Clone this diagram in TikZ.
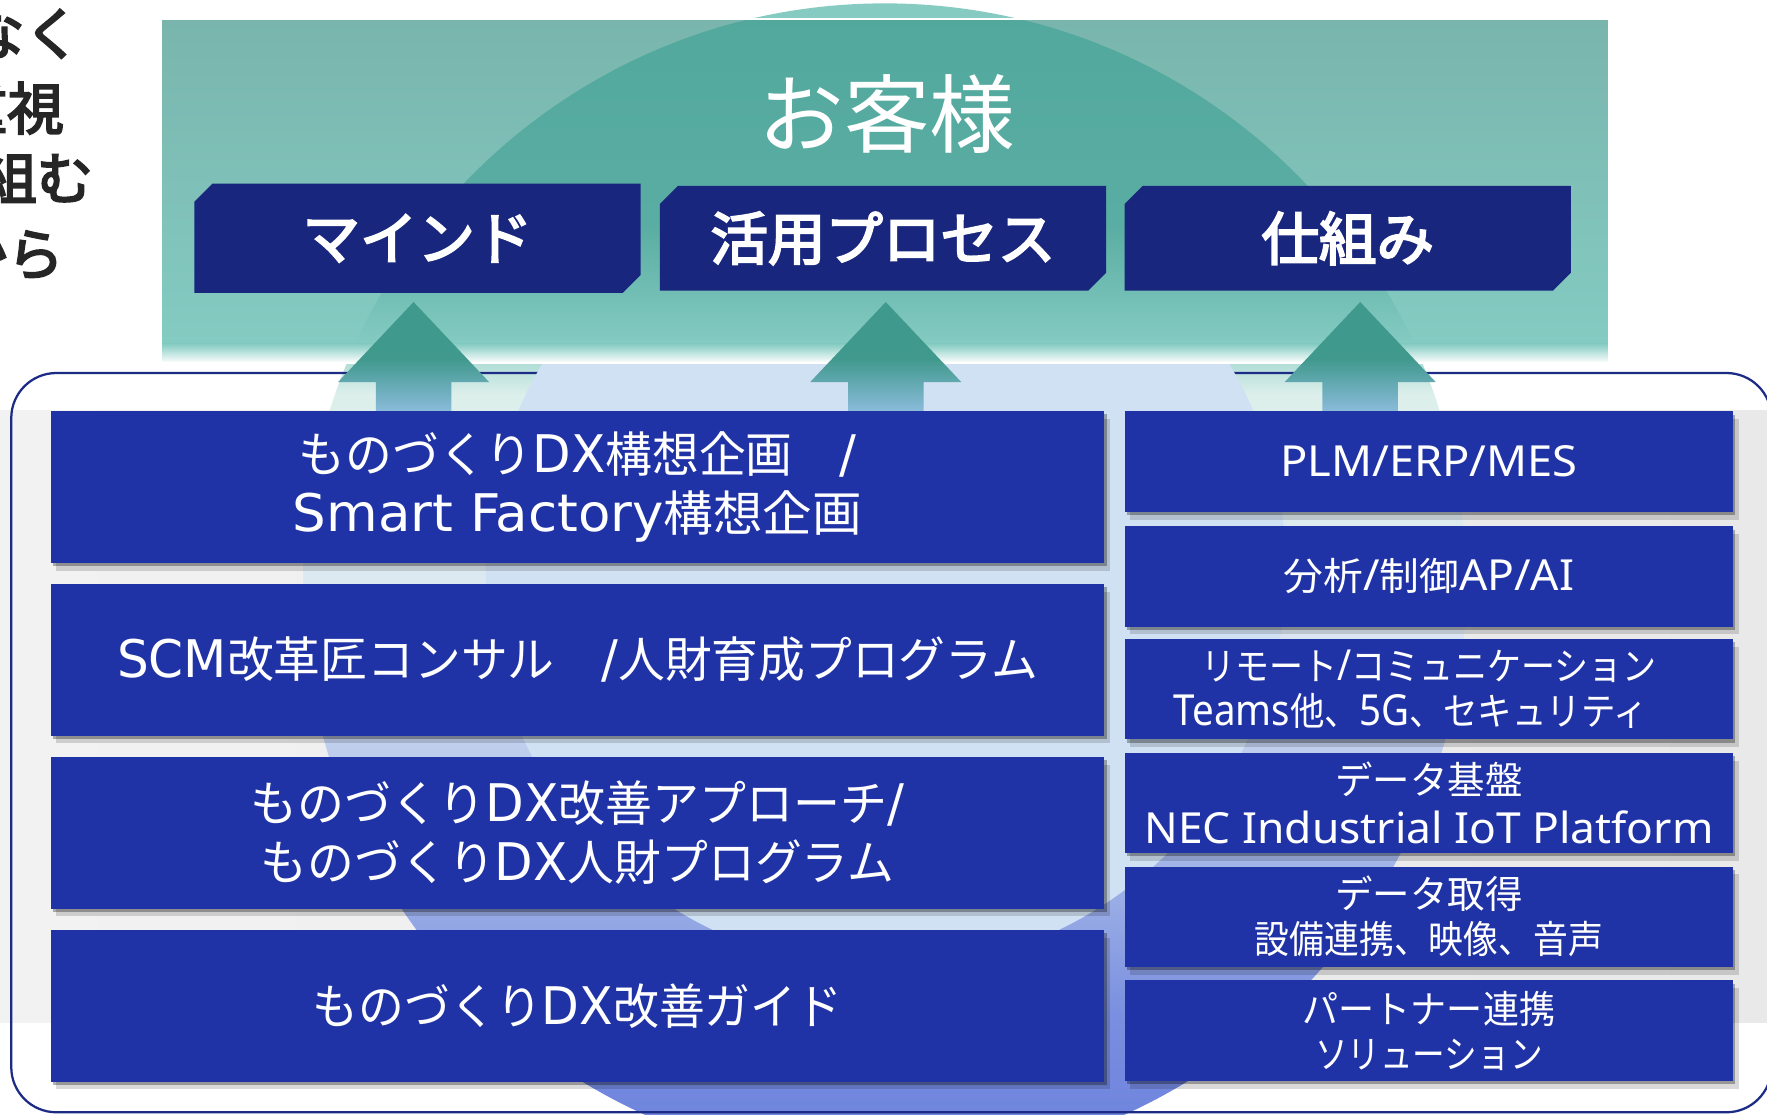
\documentclass[tikz,border=0pt]{standalone}
\usepackage{fontspec}
\usepackage{graphicx}
\usetikzlibrary{calc,shadows}
\newfontfamily\jp{Noto Sans CJK JP}
\newfontfamily\dv{DejaVu Sans}
\newfontfamily\ns{Noto Sans}
\definecolor{hdrblue}{HTML}{18267D}
\definecolor{boxblue}{HTML}{2033A6}
\definecolor{tealA}{HTML}{79B5AD}
\definecolor{tealB}{HTML}{84CBC2}
\definecolor{tealC}{HTML}{52A89D}
\definecolor{tealD}{HTML}{5AADA2}
\definecolor{capteal}{HTML}{86CBC2}
\definecolor{mint}{HTML}{DCEFEB}
\definecolor{pale}{HTML}{DDE7F3}
\definecolor{lblue}{HTML}{D0E1F3}
\definecolor{mblueA}{HTML}{9FB2E7}
\definecolor{mblueB}{HTML}{7A8FDF}
\definecolor{mblueC}{HTML}{6A7FDC}
\definecolor{arrteal}{HTML}{40998D}
\definecolor{arrblue}{HTML}{8CBCDC}
\definecolor{outlinec}{HTML}{1C2C85}
\definecolor{greyA}{HTML}{F2F2F2}
\definecolor{greyB}{HTML}{E9E9E9}
\definecolor{inkc}{HTML}{262626}
\pgfdeclarelayer{back}
\pgfsetlayers{back,main}
\newcommand{\fw}[2]{\resizebox{#1}{\height}{#2}}
\newcommand{\la}[1]{{\dv\fontsize{23pt}{26pt}\selectfont #1}}
\newcommand{\lb}[1]{{\ns\fontsize{19pt}{20pt}\selectfont #1}}
% medium weight: fill and stroke the glyphs
\newcommand{\emb}[2]{\special{pdf:literal direct #1 RG 2 Tr 0.9 w}#2\special{pdf:literal direct 0 Tr}}
\begin{document}
\begin{tikzpicture}[x=0.5pt,y=-0.5pt,
  hdr/.style={minimum width=198pt, inner sep=0pt, outer sep=0pt, text=white,
    font=\jp\fontsize{25.5pt}{30pt}\selectfont},
  shadowed/.style={drop shadow={shadow xshift=1pt,shadow yshift=-1.5pt,opacity=.3,fill=black},
    drop shadow={shadow xshift=2.5pt,shadow yshift=-3.5pt,opacity=.15,fill=black}},
  lbox/.style={fill=boxblue, minimum width=467.5pt, minimum height=67.25pt, inner sep=0pt,
    outer sep=0pt, text=white, align=center, font=\jp\fontsize{21.5pt}{26pt}\selectfont, shadowed},
  rbox/.style={fill=boxblue, minimum width=270pt, minimum height=44.5pt, inner sep=0pt,
    outer sep=0pt, text=white, align=center, font=\jp\fontsize{17pt}{20pt}\selectfont, shadowed},
  tl/.style={inner sep=0pt, text=inkc, font=\jp\fontsize{25pt}{30pt}\selectfont}
]
\useasboundingbox (0,0) rectangle (1568,989);

\begin{pgfonlayer}{back}
\fill[white] (0,0) rectangle (1568,989);
\shade[left color=greyA, right color=greyB] (0,364) rectangle (1568,907);
% outer circle
\begin{scope}
\clip (785,519) circle[radius=516];
\fill[capteal] (0,0) rectangle (1568,322);
\shade[top color=capteal!50!mint, bottom color=mint] (0,322) rectangle (1568,350);
\shade[top color=mint, bottom color=pale] (0,350) rectangle (1568,560);
\shade[top color=pale, bottom color=mblueA] (0,560) rectangle (1568,780);
\shade[top color=mblueA, bottom color=mblueB] (0,780) rectangle (1568,900);
\shade[top color=mblueB, bottom color=mblueC] (0,900) rectangle (1568,1040);
\end{scope}
% frame
\draw[outlinec, line width=1pt, rounded corners=20pt] (10,331) rectangle (1572,987);
% inner circle
\fill[lblue] (786,505) circle[radius=355];
% teal panel
\begin{scope}
\clip (143,17) rectangle (1428,322);
\shade[top color=tealA, bottom color=tealB] (143,17) rectangle (1428,305);
\begin{scope}
\clip (785,519) circle[radius=516];
\shade[top color=tealC, bottom color=tealD] (143,3) rectangle (1428,200);
\shade[top color=tealD, bottom color=tealB] (143,200) rectangle (1428,305);
\end{scope}
\shade[top color=tealB, bottom color=white] (143,305) rectangle (1428,322);
\end{scope}
\draw[white, line width=0.75pt] (143,17) rectangle (1428,322);
\end{pgfonlayer}

% title and headers
\node[font=\jp\fontsize{38pt}{40pt}\selectfont, text=white, inner sep=0pt] (title) at (787,101) {お客様};
\node[hdr, minimum height=48.5pt] (m1) at (370.5,211.5) {\emb{1 1 1}{マインド}};
\node[hdr, minimum height=46.5pt] (m2) at (783.5,211.5) {\emb{1 1 1}{活用プロセス}};
\node[hdr, minimum height=46.5pt] (m3) at (1196,211.5) {\emb{1 1 1}{仕組み}};

\coordinate (t1) at (367,268);
\coordinate (t2) at (786,268);
\coordinate (t3) at (1207,268);

\begin{pgfonlayer}{back}
\foreach \m in {m1,m2,m3}{
  \fill[hdrblue] ($(\m.north west)+(0,16)$) -- ($(\m.north west)+(16,0)$) -- (\m.north east)
    -- ($(\m.south east)+(0,-16)$) -- ($(\m.south east)+(-16,0)$) -- (\m.south west) -- cycle;
}
\foreach \t in {t1,t2,t3}{
  \begin{scope}
  \clip (\t) -- ($(\t)+(67,71)$) -- ($(\t)+(33.5,71)$) -- ($(\t)+(33.5,97)$)
    -- ($(\t)+(-33.5,97)$) -- ($(\t)+(-33.5,71)$) -- ($(\t)+(-67,71)$) -- cycle;
  \fill[arrteal] ($(\t)+(-70,-2)$) rectangle ($(\t)+(70,50)$);
  \shade[top color=arrteal, bottom color=arrblue] ($(\t)+(-70,50)$) rectangle ($(\t)+(70,98)$);
  \end{scope}
}
\end{pgfonlayer}

% left column
\node[lbox] (L1) at (512.5,432) {\fw{247.5pt}{ものづくり\la{DX}構想企画　\la{/}}\\\fw{252.5pt}{\la{Smart Factory}構想企画}};
\node[lbox] (L2) at (512.5,585.5) {\fw{408.5pt}{\la{SCM}改革匠コンサル　\la{/}人財育成プログラム}};
\node[lbox] (L3) at (512.5,739) {\fw{290pt}{ものづくり\la{DX}改善アプローチ\la{/}}\\\fw{281pt}{ものづくり\la{DX}人財プログラム}};
\node[lbox] (L4) at (512.5,892.5) {\fw{235pt}{ものづくり\la{DX}改善ガイド}};

% right column
\node[rbox] (R1) at (1268,409.5) {\fw{132pt}{\lb{PLM/ERP/MES}}};
\node[rbox] (R2) at (1268,511.5) {\fw{129pt}{分析\lb{/}制御\lb{AP/AI}}};
\node[rbox] (R3) at (1268,611.5) {\fw{202pt}{リモート\lb{/}コミュニケーション}\\\fw{210.5pt}{\lb{Teams}他、\lb{5G}、セキュリティ}\kern16pt};
\node[rbox] (R4) at (1268,712.5) {\fw{83pt}{データ基盤}\\[1.5pt]\fw{252.5pt}{\lb{NEC Industrial IoT Platform}}};
\node[rbox] (R5) at (1268,813.5) {\fw{83pt}{データ取得}\\\fw{154.5pt}{設備連携、映像、音声}};
\node[rbox] (R6) at (1268,914.5) {\fw{112pt}{パートナー連携}\\\fw{101pt}{ソリューション}};

% text cut off at the left edge, as in the reference
\begin{scope}
\clip (0,0) rectangle (1568,989);
\node[tl, anchor=east] (tl1) at (72,30) {\emb{0.15 0.15 0.15}{ではなく}};
\node[tl, anchor=east] (tl2) at (57,96) {\emb{0.15 0.15 0.15}{を重視}};
\node[tl, anchor=east] (tl3) at (83,158) {\emb{0.15 0.15 0.15}{取り組む}};
\node[tl, anchor=east] (tl4) at (57,226) {\emb{0.15 0.15 0.15}{から}};
\end{scope}
\end{tikzpicture}
\end{document}
